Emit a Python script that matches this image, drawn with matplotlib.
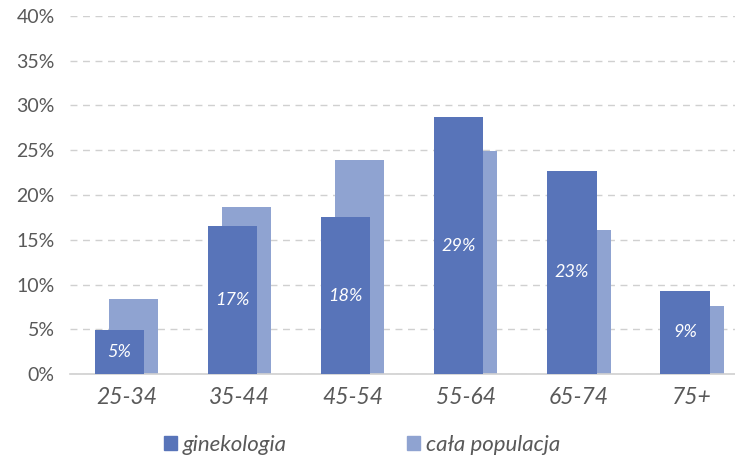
import matplotlib.pyplot as plt
import numpy as np
from matplotlib.patches import Patch

categories = ['25-34', '35-44', '45-54', '55-64', '65-74', '75+']
ginekologia = [4.9, 16.5, 17.5, 28.7, 22.7, 9.3]
populacja = [8.4, 18.7, 23.9, 24.9, 16.1, 7.6]
labels = ['5%', '17%', '18%', '29%', '23%', '9%']

dark = '#5874b9'
light = '#8fa3d1'
grey = '#595959'

plt.rcParams['font.family'] = ['Lato', 'DejaVu Sans']

fig = plt.figure(figsize=(7.35, 4.58), dpi=100)
ax = fig.add_axes([70 / 735, 1 - 374 / 458, 1 - 70 / 735, (374 - 16) / 458])

x = np.arange(len(categories))
w = 0.435
off = 0.062

# tło: cała populacja, z przodu: ginekologia
ax.bar(x + off, populacja, width=w, color=light, zorder=2)
bars = ax.bar(x - off, ginekologia, width=w, color=dark, zorder=3)

for b, lab in zip(bars, labels):
    ax.text(b.get_x() + b.get_width() / 2, b.get_height() / 2, lab,
            ha='center', va='center', color='white', fontsize=13,
            style='italic', zorder=4)

ax.set_ylim(0, 40)
ax.set_xlim(-0.5, (735 - 70) / 113.1 - 0.5)
ax.set_yticks(np.arange(0, 41, 5))
ax.set_yticklabels([f'{v}%' for v in range(0, 41, 5)], fontsize=14, color=grey)
ax.set_xticks(x)
ax.set_xticklabels(categories, fontsize=16.5, color=grey, style='italic')
ax.tick_params(axis='both', length=0)
ax.tick_params(axis='y', pad=11)
ax.tick_params(axis='x', pad=9)

ax.yaxis.grid(True, linestyle=(0, (5, 4)), color='#d0d0d0', linewidth=1, zorder=0)
ax.set_axisbelow(True)
for s in ['top', 'right', 'left']:
    ax.spines[s].set_visible(False)
ax.spines['bottom'].set_color('#d0d0d0')
ax.spines['bottom'].set_linewidth(1.2)

handles = [Patch(color=dark, label='ginekologia'), Patch(color=light, label='cała populacja')]
leg = fig.legend(handles=handles, loc='center left', bbox_to_anchor=(144 / 735, 1 - 445 / 458),
                 ncol=2, frameon=False, handlelength=0.6, handleheight=0.6,
                 handletextpad=0.25, columnspacing=5.4,
                 prop={'size': 16, 'style': 'italic'})
for t in leg.get_texts():
    t.set_color(grey)

fig.savefig('out.png', dpi=100)
